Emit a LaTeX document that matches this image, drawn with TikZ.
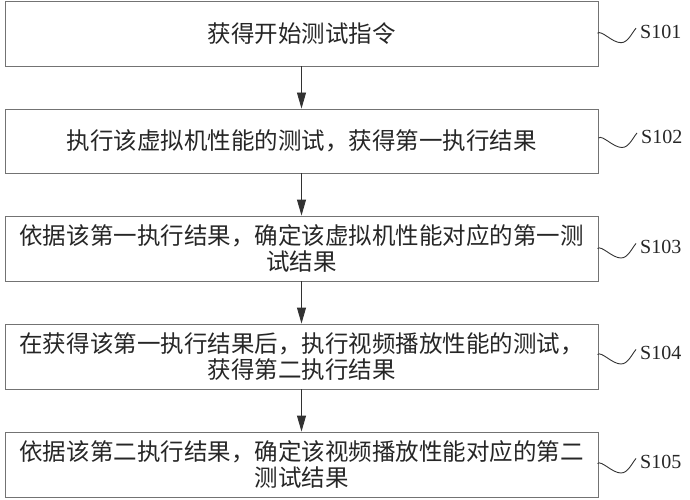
\documentclass[tikz,border=0pt]{standalone}
\usepackage{fontspec}
\setmainfont{Liberation Serif}
\newfontfamily\cjk{Noto Sans CJK SC}
\usetikzlibrary{arrows.meta,calc}
\definecolor{boxgray}{RGB}{115,115,115}
\definecolor{arrowgray}{RGB}{50,50,50}
\tikzset{
  flowbox/.style={draw=boxgray, line width=0.9pt, minimum width=593pt, minimum height=65pt,
    inner sep=0pt, align=center, font=\cjk\fontsize{23.5}{26.7}\selectfont, text=black!85},
  flowarrow/.style={draw=arrowgray, line width=0.9pt, -{Triangle[width=9pt,length=16pt]}},
  steplbl/.style={anchor=west, inner sep=0pt, font=\fontsize{20}{20}\selectfont, text=black!85},
  wave/.style={draw=black!80, line width=0.9pt},
}
\newcommand\mywave[1]{\draw[wave] ($(#1.west)+(-42.5,1.5)$) .. controls ($(#1.west)+(-38.5,-2)$) and ($(#1.west)+(-28,11)$) .. ($(#1.west)+(-19,11)$) .. controls ($(#1.west)+(-12,11)$) and ($(#1.west)+(-8,1)$) .. ($(#1.west)+(-4,-3.5)$);}
\begin{document}
\begin{tikzpicture}[x=1pt,y=-1pt]
\useasboundingbox (0,0) rectangle (690,500);
\node[flowbox] (b1) at (301.5,33.5) {获得开始测试指令};
\node[flowbox, minimum height=64pt] (b2) at (301.5,141) {执行该虚拟机性能的测试，获得第一执行结果};
\node[flowbox] (b3) at (301.5,248.5) {依据该第一执行结果，确定该虚拟机性能对应的第一测\\试结果};
\node[flowbox] (b4) at (301.5,356.5) {在获得该第一执行结果后，执行视频播放性能的测试，\\获得第二执行结果};
\node[flowbox] (b5) at (301.5,464.5) {依据该第二执行结果，确定该视频播放性能对应的第二\\测试结果};
\draw[flowarrow] (b1) -- (b2);
\draw[flowarrow] (b2) -- (b3);
\draw[flowarrow] (b3) -- (b4);
\draw[flowarrow] (b4) -- (b5);
\node[steplbl] (l1) at (640,31.7) {S101};
\node[steplbl] (l2) at (641,136.5) {S102};
\node[steplbl] (l3) at (640,247) {S103};
\node[steplbl] (l4) at (640,353) {S104};
\node[steplbl] (l5) at (640,462) {S105};
\mywave{l1}
\mywave{l2}
\mywave{l3}
\mywave{l4}
\mywave{l5}
\end{tikzpicture}
\end{document}
